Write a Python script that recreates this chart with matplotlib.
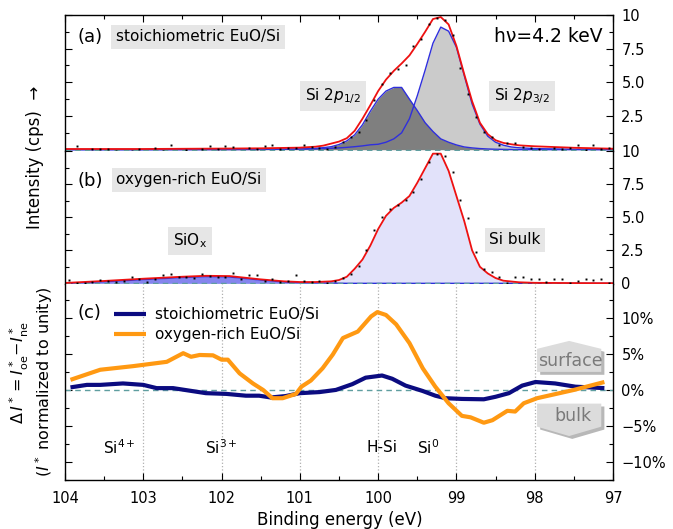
import numpy as np
import matplotlib
matplotlib.use("Agg")
import matplotlib.pyplot as plt
from matplotlib.patches import Polygon
from matplotlib.ticker import MultipleLocator, FixedLocator, FormatStrFormatter

# ---- data ----
# fitted curves, panel (a): stoichiometric EuO/Si
E_fit = [104.0, 103.0, 102.0, 101.5, 101.0, 100.8, 100.7, 100.6, 100.5, 100.4, 100.3, 100.2,
         100.1, 100.0, 99.9, 99.8, 99.7, 99.6, 99.5, 99.4, 99.3, 99.2, 99.1, 99.0, 98.9, 98.8,
         98.7, 98.6, 98.5, 98.4, 98.3, 98.2, 98.0, 97.5, 97.0]
a_p12 = [0.0, 0.0, 0.01, 0.02, 0.05, 0.1, 0.15, 0.22, 0.38, 0.65, 1.1, 1.85,
         2.85, 3.75, 4.35, 4.62, 4.62, 3.75, 2.9, 2.0, 1.35, 0.8, 0.55, 0.35, 0.2, 0.13,
         0.08, 0.05, 0.03, 0.02, 0.01, 0.0, 0.0, 0.0, 0.0]
a_p32 = [0.0, 0.0, 0.01, 0.02, 0.04, 0.06, 0.08, 0.1, 0.13, 0.17, 0.22, 0.28,
         0.36, 0.4, 0.55, 0.8, 1.25, 2.3, 4.0, 5.9, 7.9, 9.1, 8.8, 7.6, 5.5, 3.4,
         1.9, 1.0, 0.55, 0.33, 0.2, 0.14, 0.08, 0.03, 0.01]
a_env = [0.05, 0.05, 0.08, 0.1, 0.15, 0.22, 0.3, 0.45, 0.6, 0.85, 1.4, 2.3,
         3.3, 4.35, 5.2, 5.85, 6.4, 7.0, 7.85, 8.75, 9.7, 9.85, 9.3, 7.7, 5.6, 3.6,
         2.0, 1.15, 0.7, 0.5, 0.4, 0.32, 0.25, 0.14, 0.07]

# fitted curves, panel (b): oxygen-rich EuO/Si
E_b = [104.0, 103.5, 103.0, 102.5, 102.2, 101.9, 101.5, 101.2, 101.0, 100.8, 100.6, 100.5,
       100.4, 100.3, 100.2, 100.1, 100.0, 99.9, 99.8, 99.7, 99.6, 99.5, 99.4, 99.3, 99.2,
       99.1, 99.0, 98.9, 98.8, 98.7, 98.6, 98.5, 98.4, 98.2, 98.0, 97.5, 97.0]
b_env = [0.03, 0.18, 0.35, 0.5, 0.57, 0.55, 0.3, 0.15, 0.1, 0.1, 0.15, 0.25,
         0.5, 1.1, 1.8, 2.85, 4.1, 5.1, 5.7, 6.1, 6.6, 7.6, 8.7, 9.8, 9.8,
         8.5, 6.6, 4.7, 2.5, 1.25, 0.75, 0.4, 0.2, 0.08, 0.04, 0.02, 0.01]
b_siox = [0.0, 0.12, 0.28, 0.44, 0.5, 0.48, 0.25, 0.1, 0.05, 0.03, 0.02, 0.01,
          0.0, 0.0, 0.0, 0.0, 0.0, 0.0, 0.0, 0.0, 0.0, 0.0, 0.0, 0.0, 0.0,
          0.0, 0.0, 0.0, 0.0, 0.0, 0.0, 0.0, 0.0, 0.0, 0.0, 0.0, 0.0]

# measured points (0.1 eV steps)
E_pts = [103.95, 103.85, 103.75, 103.65, 103.55, 103.45, 103.35, 103.25, 103.15, 103.05,
         102.95, 102.85, 102.75, 102.65, 102.55, 102.45, 102.35, 102.25, 102.15, 102.05,
         101.95, 101.85, 101.75, 101.65, 101.55, 101.45, 101.35, 101.25, 101.15, 101.05,
         100.95, 100.85, 100.75, 100.65, 100.55, 100.45, 100.35, 100.25, 100.15, 100.05,
         99.95, 99.85, 99.75, 99.65, 99.55, 99.45, 99.35, 99.25, 99.15, 99.05,
         98.95, 98.85, 98.75, 98.65, 98.55, 98.45, 98.35, 98.25, 98.15, 98.05,
         97.95, 97.85, 97.75, 97.65, 97.55, 97.45, 97.35, 97.25, 97.15, 97.05]
a_pts = [-0.17, 0.27, -0.25, 0.02, 0.07, 0.07, -0.12, -0.25, -0.1, 0.02,
         -0.17, 0.12, -0.12, 0.32, -0.22, 0.0, -0.25, 0.02, 0.27, 0.07,
         0.25, 0.17, -0.17, 0.12, 0.07, 0.3, 0.35, 0.05, 0.1, 0.12,
         0.35, 0.22, 0.1, 0.05, 0.22, 0.54, 0.93, 1.3, 2.2, 3.7,
         4.9, 5.7, 6.0, 6.3, 7.7, 8.2, 9.3, 9.8, 9.6, 8.5,
         6.1, 4.1, 2.4, 1.3, 0.93, 0.35, 0.5, 0.5, 0.2, 0.1,
         0.05, -0.15, 0.1, 0.05, 0.1, 0.32, 0.0, 0.32, 0.05, 0.1]
b_pts = [0.25, 0.05, 0.0, 0.1, 0.25, 0.18, 0.1, 0.2, 0.5, 0.35,
         0.1, 0.3, 0.63, 0.68, 0.5, 0.45, 0.4, 0.68, 0.55, 0.5,
         0.45, 0.75, 0.35, 0.63, 0.63, 0.2, 0.35, 0.1, 0.15, 0.6,
         0.2, 0.1, 0.15, 0.05, 0.2, 0.4, 0.7, 1.3, 2.5, 4.0,
         5.0, 5.6, 5.9, 6.3, 6.9, 7.9, 9.2, 9.8, 9.6, 8.4,
         6.3, 4.9, 2.4, 1.1, 0.83, 0.45, 0.03, 0.5, 0.48, 0.35,
         0.3, 0.1, 0.3, 0.35, 0.05, 0.2, 0.3, 0.25, 0.3, 0.05]

# panel (c): difference spectra (%)
E_or = [103.93, 103.55, 103.13, 102.70, 102.49, 102.39, 102.28, 102.11, 102.0, 101.92,
        101.77, 101.60, 101.47, 101.35, 101.22, 101.05, 100.98, 100.86, 100.71, 100.58,
        100.45, 100.26, 100.09, 100.01, 99.90, 99.77, 99.60, 99.43, 99.27, 99.10,
        98.93, 98.82, 98.65, 98.54, 98.35, 98.25, 98.14, 97.97, 97.50, 97.11]
d_or = [1.4, 2.8, 3.3, 3.9, 5.1, 4.6, 4.85, 4.8, 4.2, 4.2,
        2.3, 0.9, 0.0, -1.15, -1.15, -0.55, 0.45, 1.3, 3.0, 4.9,
        7.2, 8.1, 10.2, 10.8, 10.4, 9.1, 6.5, 3.0, 0.45, -1.85,
        -3.6, -3.8, -4.55, -4.2, -2.9, -3.0, -1.85, -1.15, 0.0, 1.1]
E_bl = [103.93, 103.72, 103.55, 103.26, 103.0, 102.83, 102.62, 102.41, 102.2, 101.94,
        101.69, 101.52, 101.37, 101.18, 101.0, 100.75, 100.54, 100.33, 100.16, 99.95,
        99.82, 99.65, 99.43, 99.27, 99.14, 98.93, 98.65, 98.50, 98.33, 98.16,
        97.99, 97.74, 97.48, 97.11]
d_bl = [0.35, 0.7, 0.7, 0.9, 0.7, 0.25, 0.25, -0.1, -0.45, -0.55,
        -0.8, -0.8, -1.05, -0.85, -0.45, -0.3, 0.0, 0.8, 1.7, 2.0,
        1.55, 0.6, -0.15, -0.8, -1.15, -1.25, -1.3, -0.95, -0.45, 0.6,
        1.1, 0.9, 0.45, 0.25]

ref_lines = [103, 102, 101, 100, 99, 98]
ref_labels = [(103.3, r"Si$^{4+}$"), (102.0, r"Si$^{3+}$"), (99.95, "H-Si"), (99.36, r"Si$^{0}$")]

RED, BLUE, NAVY, ORANGE = "#ee1111", "#2f2fdd", "#0b0b80", "#ff9912"
BASE = "#5f9ea0"
FS = 11

W, H = 673, 529
fig = plt.figure(figsize=(W / 100, H / 100), dpi=100)


def frac(x, y):
    return x / W, 1 - y / H


L, R = 65, 613
def box(top, bot):
    return [L / W, 1 - bot / H, (R - L) / W, (bot - top) / H]


ax_a = fig.add_axes(box(15, 151))
ax_b = fig.add_axes(box(151, 284))
ax_c = fig.add_axes(box(284, 480))

for ax in (ax_a, ax_b, ax_c):
    ax.set_xlim(104, 97)
    ax.xaxis.set_major_locator(MultipleLocator(1))
    ax.xaxis.set_minor_locator(MultipleLocator(0.5))
    ax.tick_params(which="both", direction="in", left=True, right=True, top=True, bottom=True,
                   labelleft=False, labelright=True, labelbottom=False, labelsize=10.5, pad=6)
    ax.tick_params(which="major", length=5, width=0.8)
    ax.tick_params(which="minor", length=3, width=0.8)
    for s in ax.spines.values():
        s.set_linewidth(1.0)

ax_a.spines["bottom"].set_visible(False)
ax_b.spines["top"].set_visible(False)
ax_b.spines["bottom"].set_visible(False)
ax_c.spines["top"].set_visible(False)
ax_a.tick_params(which="both", bottom=False)
ax_b.tick_params(which="both", bottom=False, top=False)
ax_c.tick_params(which="both", top=False, labelbottom=True)

# panel (a)
ax_a.set_ylim(-0.1, 10)
ax_a.fill_between(E_fit, 0, a_p32, color="#cbcbcb", lw=0)
ax_a.fill_between(E_fit, 0, a_p12, color="#7f7f7f", lw=0)
ax_a.plot(E_fit, a_p32, color=BLUE, lw=1.0)
ax_a.plot(E_fit, a_p12, color=BLUE, lw=1.0)
ax_a.axhline(0, color=BASE, ls=(0, (4, 3)), lw=1.0)
ax_a.plot(E_fit, a_env, color=RED, lw=1.3)
ax_a.plot(E_pts, a_pts, "s", color="k", ms=1.4, mew=0)
ax_a.yaxis.set_major_locator(FixedLocator([2.5, 5, 7.5, 10]))
ax_a.yaxis.set_minor_locator(FixedLocator([1.25, 3.75, 6.25, 8.75]))
ax_a.set_yticklabels(["2.5", "5.0", "7.5", "10"])

# panel (b)
ax_b.set_ylim(-0.05, 10)
ax_b.fill_between(E_b, 0, b_env, color="#e2e2fa", lw=0)
ax_b.fill_between(E_b, 0, b_siox, color="#8585ee", lw=0)
ax_b.plot(E_b, b_siox, color=BLUE, lw=1.0)
ax_b.axhline(0, color=BASE, ls=(0, (4, 3)), lw=1.0)
ax_b.plot(E_b, b_env, color=RED, lw=1.3)
ax_b.plot(E_pts, b_pts, "s", color="k", ms=1.4, mew=0)
ax_b.yaxis.set_major_locator(FixedLocator([0, 2.5, 5, 7.5, 10]))
ax_b.yaxis.set_minor_locator(FixedLocator([1.25, 3.75, 6.25, 8.75]))
ax_b.set_yticklabels(["0", "2.5", "5.0", "7.5", "10"])

# panel (c)
ax_c.set_ylim(-12.5, 14.7)
for e in ref_lines:
    ax_c.axvline(e, color="#b0b0b0", ls=":", lw=0.9, zorder=0)
ax_c.axhline(0, color=BASE, ls=(0, (4, 3)), lw=1.0)
ax_c.plot(E_bl, d_bl, color=NAVY, lw=3, label="stoichiometric EuO/Si", solid_capstyle="butt")
ax_c.plot(E_or, d_or, color=ORANGE, lw=3, label="oxygen-rich EuO/Si", solid_capstyle="butt")
ax_c.yaxis.set_major_locator(FixedLocator([-10, -5, 0, 5, 10]))
ax_c.yaxis.set_minor_locator(FixedLocator([-12.5, -7.5, -2.5, 2.5, 7.5, 12.5]))
ax_c.set_yticklabels(["\u221210%", "\u22125%", "0%", "5%", "10%"])
ax_c.xaxis.set_major_formatter(FormatStrFormatter("%d"))
ax_c.tick_params(axis="x", labelsize=10.5, pad=8)
ax_c.legend(loc="upper left", bbox_to_anchor=(0.075, 0.92), frameon=False, fontsize=FS,
            handlelength=2.1, handletextpad=0.6, labelspacing=0.3, borderpad=0)
for e, t in ref_labels:
    ax_c.text(e, -8.0, t, ha="center", va="center", fontsize=FS)

# surface / bulk arrows
x0, x1 = 97.97, 97.15
xm = (x0 + x1) / 2
sh = 0.04
surf = [(x0, 2.5), (x0, 5.7), (xm, 6.8), (x1, 5.7), (x1, 2.5)]
bulk = [(x0, -1.9), (x0, -5.1), (xm, -6.4), (x1, -5.1), (x1, -1.9)]
for poly in (surf, bulk):
    ax_c.add_patch(Polygon([(x - sh, y - 0.4) for x, y in poly], closed=True, fc="#b8b8b8", ec="none", zorder=1))
    ax_c.add_patch(Polygon(poly, closed=True, fc="#dcdcdc", ec="none", zorder=1))
ax_c.text(xm - 0.02, 4.0, "surface", ha="center", va="center", fontsize=12.5, color="#7a7a7a", zorder=2)
ax_c.text(xm - 0.05, -3.6, "bulk", ha="center", va="center", fontsize=12.5, color="#7a7a7a", zorder=2)

# annotations
gbox = dict(boxstyle="square,pad=0.3", fc="#e6e6e6", ec="none")
fig.text(*frac(90, 37), "(a)", fontsize=13, ha="center", va="center")
fig.text(*frac(198, 37), "stoichiometric EuO/Si", fontsize=FS, ha="center", va="center", bbox=gbox)
fig.text(*frac(90, 181), "(b)", fontsize=13, ha="center", va="center")
fig.text(*frac(189, 180), "oxygen-rich EuO/Si", fontsize=FS, ha="center", va="center", bbox=gbox)
fig.text(*frac(89, 313), "(c)", fontsize=13, ha="center", va="center")
fig.text(*frac(548, 37), "h\u03bd=4.2 keV", fontsize=13.5, ha="center", va="center")
fig.text(*frac(333, 96), r"Si 2$p_{1/2}$", fontsize=FS, ha="center", va="center", bbox=gbox)
fig.text(*frac(522, 96), r"Si 2$p_{3/2}$", fontsize=FS, ha="center", va="center", bbox=gbox)
fig.text(*frac(190, 241), r"SiO$_{\rm x}$", fontsize=FS, ha="center", va="center", bbox=gbox)
fig.text(*frac(515, 240), "Si bulk", fontsize=FS, ha="center", va="center", bbox=gbox)

fig.text(*frac(35, 157), "Intensity (cps)  \u2192", fontsize=12, rotation=90, ha="center", va="center")
fig.text(*frac(19, 373), r"$\Delta\,I^* = I^*_{\rm oe}\!-\!I^*_{\rm ne}$", fontsize=11.5, rotation=90,
         ha="center", va="center")
fig.text(*frac(44, 382), r"($I^*$ normalized to unity)", fontsize=11.5, rotation=90, ha="center", va="center")
fig.text(*frac(340, 520), "Binding energy (eV)", fontsize=12, ha="center", va="center")

fig.savefig("out.png", dpi=100)
